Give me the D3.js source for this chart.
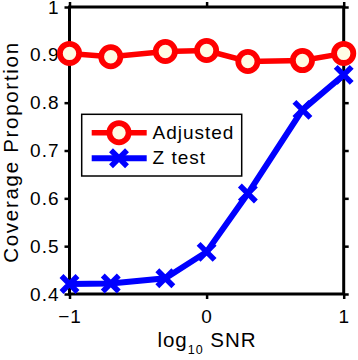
<!DOCTYPE html>
<html><head><meta charset="utf-8">
<script src="https://cdn.jsdelivr.net/npm/d3@7"></script>
<style>body{margin:0;background:#fff}svg{display:block}text{font-family:"Liberation Sans",Arial,Helvetica,sans-serif;fill:#000}</style>
</head><body>
<script>
const xValues = [-1, Math.log10(0.2), Math.log10(0.5), 0, Math.log10(2), Math.log10(5), 1];
const adjusted = [0.903, 0.896, 0.907, 0.909, 0.886, 0.888, 0.903];
const ztest = [0.421, 0.422, 0.433, 0.488, 0.610, 0.785, 0.858];
const seriesNames = ["Adjusted", "Z test"];
const xTicks = [-1, 0, 1];
const yTicks = [0.4, 0.5, 0.6, 0.7, 0.8, 0.9, 1];

const W = 358, H = 360;
const svg = d3.select("body").append("svg").attr("width", W).attr("height", H);
const x = d3.scaleLinear().domain([-1, 1]).range([69.5, 343.7]);
const y = d3.scaleLinear().domain([0.4, 1]).range([294, 7]);
const FS = 19, LS = "1px";

const g = svg.append("g");
const axFmt = d => d === 1 ? "1" : d3.format(".1f")(d);
const styleAxis = sel => {
  sel.select(".domain").remove();
  sel.selectAll(".tick line").attr("stroke", "#000").attr("stroke-width", 2.5);
  sel.selectAll("text").style("font-size", FS + "px").style("letter-spacing", LS)
    .style("font-family", '"Liberation Sans",Arial,sans-serif');
};

g.append("g").attr("transform", `translate(0,${y(0.4)})`).call(d3.axisBottom(x).tickValues(xTicks).tickSize(5).tickPadding(11).tickFormat(d => d < 0 ? "\u2212" + Math.abs(d) : String(d))).call(styleAxis);
g.append("g").attr("transform", `translate(0,${y(1)})`).call(d3.axisTop(x).tickValues(xTicks).tickSize(5).tickFormat("")).call(styleAxis);
g.append("g").attr("transform", `translate(${x(-1)},0)`).call(d3.axisLeft(y).tickValues(yTicks).tickSize(5).tickPadding(5).tickFormat(axFmt)).call(styleAxis);
g.append("g").attr("transform", `translate(${x(1)},0)`).call(d3.axisRight(y).tickValues(yTicks).tickSize(5).tickFormat("")).call(styleAxis);
g.append("rect").attr("x", x(-1)).attr("y", y(1)).attr("width", x(1) - x(-1)).attr("height", y(0.4) - y(1))
  .attr("fill", "none").attr("stroke", "#000").attr("stroke-width", 3);

const line = d3.line().x((d, i) => x(xValues[i])).y(d => y(d));
const RED = "#ff0000", BLUE = "#0000ff", FILL = "#fffce4";
function circleMarker(sel, cx, cy) {
  sel.append("circle").attr("cx", cx).attr("cy", cy).attr("r", 9.6).attr("fill", FILL).attr("stroke", RED).attr("stroke-width", 5.8);
}
function xMarker(sel, cx, cy) {
  const s = 8;
  sel.append("path").attr("d", `M${cx - s},${cy - s}L${cx + s},${cy + s}M${cx - s},${cy + s}L${cx + s},${cy - s}`)
    .attr("stroke", BLUE).attr("stroke-width", 5.5).attr("fill", "none");
}
const gs = svg.append("g");
gs.append("path").datum(ztest).attr("d", line).attr("fill", "none").attr("stroke", BLUE).attr("stroke-width", 6);
ztest.forEach((v, i) => xMarker(gs, x(xValues[i]), y(v)));
gs.append("path").datum(adjusted).attr("d", line).attr("fill", "none").attr("stroke", RED).attr("stroke-width", 5.5);
adjusted.forEach((v, i) => circleMarker(gs, x(xValues[i]), y(v)));

const lg = svg.append("g");
lg.append("rect").attr("x", 81.7).attr("y", 114.3).attr("width", 160).attr("height", 61.7).attr("fill", "#fff").attr("stroke", "#000").attr("stroke-width", 1.5);
const rows = [132.7, 158.3];
lg.append("line").attr("x1", 91.7).attr("x2", 146.7).attr("y1", rows[0]).attr("y2", rows[0]).attr("stroke", RED).attr("stroke-width", 5.5);
circleMarker(lg, 119, rows[0]);
lg.append("line").attr("x1", 91.7).attr("x2", 146.7).attr("y1", rows[1]).attr("y2", rows[1]).attr("stroke", BLUE).attr("stroke-width", 6);
xMarker(lg, 119, rows[1]);
seriesNames.forEach((n, i) => lg.append("text").attr("x", 152.5).attr("y", rows[i] + 6).style("font-size", FS + "px").style("letter-spacing", LS).text(n));

const LFS = 20.5;
const xl = svg.append("text").attr("x", 207).attr("y", 347).attr("text-anchor", "middle").style("font-size", LFS + "px").style("letter-spacing", "1px");
xl.append("tspan").text("log");
xl.append("tspan").attr("dy", 7).style("font-size", "12.5px").text("10");
xl.append("tspan").attr("dy", -7).text("\u00a0SNR");
svg.append("text").attr("transform", `translate(17.5,152) rotate(-90)`).attr("text-anchor", "middle").style("font-size", LFS + "px").style("letter-spacing", "1.7px").text("Coverage Proportion");
</script>
</body></html>
